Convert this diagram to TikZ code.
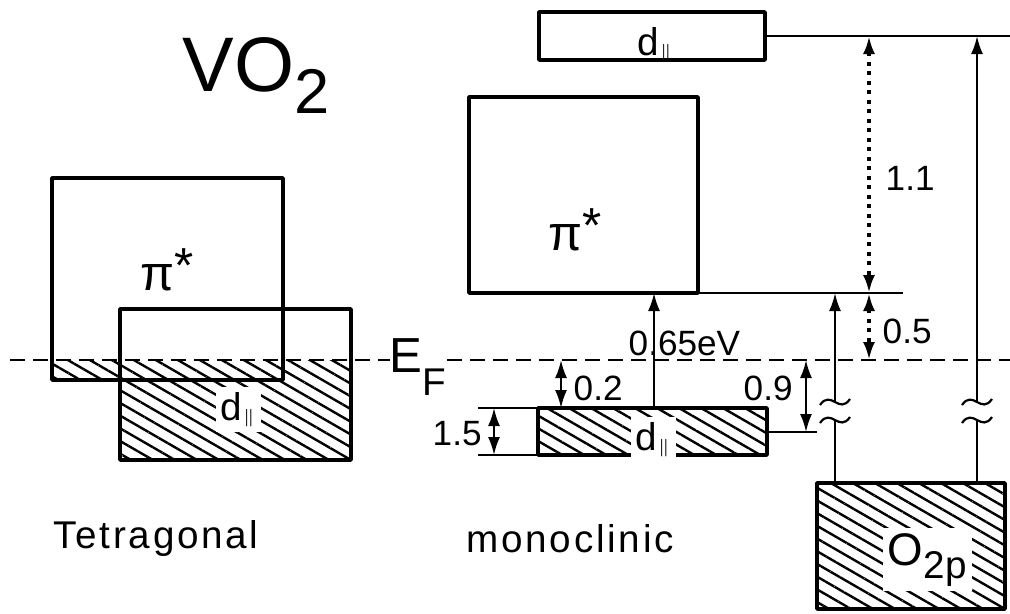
\documentclass[tikz,border=0pt]{standalone}
\usepackage{fontspec}
\setmainfont{Liberation Sans}
\newfontfamily\widefont[LetterSpace=7]{Liberation Sans}
\usetikzlibrary{arrows.meta,patterns.meta}
\tikzset{
  band/.style={line width=.35mm},
  level/.style={line width=.28mm},
  hatched/.style={pattern={Lines[angle=-30,distance=1.1mm,line width=.24mm]}},
  fermi/.style={line width=.25mm, dash pattern=on 1.5mm off .8mm},
  dim/.style={<->, line width=.22mm},
  dotdim/.style={<->, line width=.35mm, dash pattern=on .4mm off .55mm},
  num/.style={font=\fontsize{10}{12}\selectfont, inner sep=0pt, anchor=base west},
  dlbl/.style={font=\fontsize{11}{13}\selectfont, inner sep=1.5pt, anchor=base west},
  pilbl/.style={font=\fontsize{14}{16}\selectfont, inner sep=0pt, anchor=base west},
  wide/.style={font=\widefont\fontsize{11}{13}\selectfont, inner sep=0pt, anchor=base west},
}
\newcommand\dpar{d\raisebox{-.2mm}{$\scriptscriptstyle\parallel$}}
\newcommand\pistar{π\raisebox{.8mm}{*}}
\newcommand\gapmark[2]{\foreach \dy in {-9,9}
  \draw[line width=.22mm] (#1-15,#2+\dy+3) .. controls (#1-4,#2+\dy-13) and (#1+4,#2+\dy+13) .. (#1+15,#2+\dy-3);}
\begin{document}
\begin{tikzpicture}[x=.1mm, y=-.1mm, line join=round, >={Latex[length=1.8mm,width=1.2mm]}]
\useasboundingbox (0,0) rectangle (1010,613);
\path
(10,360) coordinate (ef0) (1010,360) coordinate (ef1)
(52,178) coordinate (tpi) (283,380) coordinate (tpi')
(120,309) coordinate (td) (351,460) coordinate (td')
(52,360) coordinate (tpih) (120,360) coordinate (tdh)
(469,97) coordinate (mpi) (698,293) coordinate (mpi') (903,293) coordinate (mpie)
(539,12) coordinate (md) (765,60) coordinate (md') (765,36) coordinate (mdr) (1010,36) coordinate (mde)
(538,408) coordinate (mb) (767,455) coordinate (mb') (767,432) coordinate (mbr) (817,432) coordinate (mbe)
(478,408) coordinate (t15a) (478,455) coordinate (t15b) (538,455) coordinate (mbb)
(817,483) coordinate (op) (1005,609) coordinate (op');
\path
(494,408) coordinate (a15) (494,455) coordinate (b15)
(561,360) coordinate (a02) (561,408) coordinate (b02)
(654,408) coordinate (a065) (654,293) coordinate (b065)
(806,360) coordinate (a09) (806,432) coordinate (b09)
(869,36) coordinate (a11) (869,293) coordinate (b11) (869,360) coordinate (b05)
(835,483) coordinate (p1) (835,420) coordinate (p2) (835,402) coordinate (p3) (835,293) coordinate (p4)
(977,483) coordinate (q1) (977,420) coordinate (q2) (977,402) coordinate (q3) (977,36) coordinate (q4);
% tetragonal
\fill[hatched] (tpih) rectangle (tpi') (tdh) rectangle (td');
\draw[band] (tpi) rectangle (tpi') (td) rectangle (td');
% monoclinic
\draw[band] (mpi) rectangle (mpi') (md) rectangle (md');
\draw[band, hatched] (mb) rectangle (mb') (op) rectangle (op');
\draw[level] (mpi') -- (mpie) (mdr) -- (mde) (mbr) -- (mbe) (t15a) -- (mb) (t15b) -- (mbb);
\draw[fermi] (ef0) -- (ef1);
\draw[dim] (a15) -- (b15);
\draw[dim] (a02) -- (b02);
\draw[dim] (a09) -- (b09);
\draw[->, line width=.22mm] (a065) -- (b065);
\draw[dotdim] (a11) -- (b11);
\draw[dotdim] (b11) -- (b05);
\draw[line width=.22mm] (p1) -- (p2) (q1) -- (q2);
\draw[->, line width=.22mm] (p3) -- (p4);
\draw[->, line width=.22mm] (q3) -- (q4);
\gapmark{835}{411}
\gapmark{977}{411}
% labels
\node[anchor=base west, inner sep=0pt, font=\fontsize{22}{24}\selectfont] (vo2) at (182,91) {VO\raisebox{-2.2mm}{\fontsize{18}{20}\selectfont 2}};
\node[anchor=base west, inner sep=0pt, fill=white, font=\fontsize{14}{16}\selectfont] (ef) at (389,372) {E\raisebox{-2.3mm}{\fontsize{11}{13}\selectfont F}};
\node[pilbl] (tpilbl) at (140,290) {\pistar};
\node[pilbl] (mpilbl) at (548,250) {\pistar};
\node[dlbl, fill=white] (tdlbl) at (215,420) {\dpar};
\node[dlbl, fill=white] (mblbl) at (630,450) {\dpar};
\node[dlbl] (mdlbl) at (632,55) {\dpar};
\node[anchor=base west, inner sep=1.5pt, fill=white, font=\fontsize{13}{15}\selectfont] (oplbl) at (882,565) {O\raisebox{-1.3mm}{\fontsize{11}{13}\selectfont 2p}};
\node[num] (n15) at (432,445) {1.5};
\node[num] (n02) at (573,400) {0.2};
\node[num] (n09) at (743,400) {0.9};
\node[num] (n065) at (628,355) {0.65eV};
\node[num] (n11) at (885,190) {1.1};
\node[num] (n05) at (882,343) {0.5};
\node[wide] (tet) at (53,548) {Tetragonal};
\node[wide] (mono) at (466,552) {monoclinic};
\end{tikzpicture}
\end{document}
